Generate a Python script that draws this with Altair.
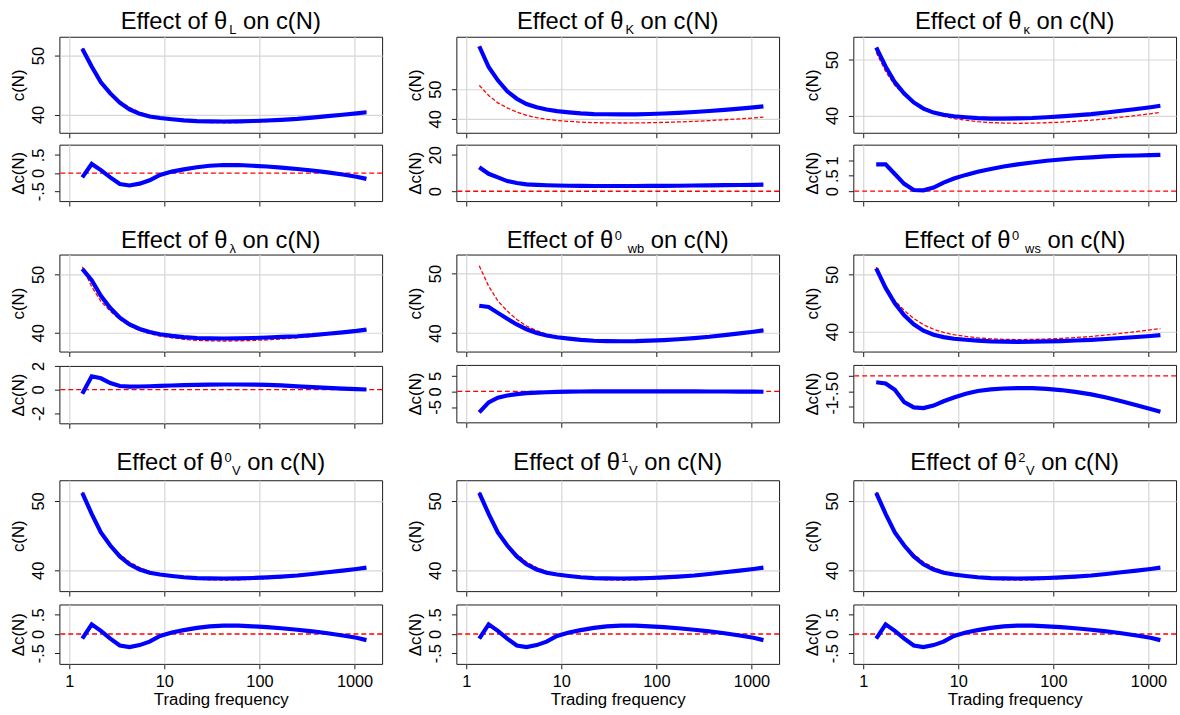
import altair as alt
import pandas as pd

FONT = "Liberation Sans"
RED = "#ff0000"
BLUE = "#0000ff"

# ---- data ----
N = [1.37, 1.72, 2.15, 2.7, 3.4, 4.3, 5.5, 7, 9, 12, 16, 22, 30, 42, 60, 85,
     120, 170, 250, 360, 520, 750, 1050, 1335]
BASE = [51.3, 47.9, 45.4, 43.7, 42.3, 41.2, 40.4, 39.85, 39.45, 39.15, 38.9,
        38.72, 38.64, 38.6, 38.62, 38.7, 38.8, 38.95, 39.15, 39.4, 39.7, 40.0,
        40.3, 40.55]
D_L = [-0.12, 0.25, 0.08, -0.12, -0.30, -0.34, -0.29, -0.20, -0.05, 0.04, 0.10,
       0.16, 0.20, 0.22, 0.22, 0.20, 0.18, 0.15, 0.11, 0.07, 0.02, -0.04, -0.10, -0.16]
D_K = [13.2, 9.6, 7.6, 5.6, 4.5, 3.8, 3.5, 3.3, 3.15, 3.05, 2.95, 2.9, 2.9, 2.9,
       2.9, 2.95, 3.0, 3.05, 3.15, 3.25, 3.35, 3.45, 3.55, 3.65]
D_KAPPA = [0.87, 0.87, 0.56, 0.24, 0.04, 0.03, 0.12, 0.28, 0.41, 0.53, 0.63, 0.72,
           0.80, 0.87, 0.93, 0.99, 1.03, 1.07, 1.10, 1.13, 1.15, 1.16, 1.17, 1.18]
D_LAMBDA = [-0.36, 1.12, 0.95, 0.55, 0.30, 0.25, 0.26, 0.28, 0.31, 0.34, 0.37, 0.40,
            0.42, 0.43, 0.43, 0.42, 0.40, 0.35, 0.27, 0.20, 0.14, 0.08, 0.03, 0.0]
D_WB = [-6.7, -3.5, -2.0, -1.3, -0.85, -0.55, -0.38, -0.25, -0.15, -0.08, -0.03, 0.0,
        0.02, 0.03, 0.03, 0.03, 0.02, 0.01, 0.0, -0.02, -0.03, -0.05, -0.07, -0.09]
D_WS = [-0.21, -0.25, -0.45, -0.85, -1.02, -1.04, -0.96, -0.82, -0.70, -0.58, -0.49,
        -0.44, -0.41, -0.40, -0.40, -0.42, -0.46, -0.52, -0.60, -0.70, -0.82, -0.95,
        -1.07, -1.16]
D_V0 = [-0.12, 0.25, 0.08, -0.12, -0.30, -0.34, -0.29, -0.20, -0.05, 0.04, 0.10,
        0.16, 0.20, 0.22, 0.22, 0.20, 0.18, 0.15, 0.11, 0.07, 0.02, -0.04, -0.10, -0.16]
D_V1 = [-0.12, 0.25, 0.08, -0.12, -0.30, -0.34, -0.29, -0.20, -0.05, 0.04, 0.10,
        0.16, 0.20, 0.22, 0.22, 0.20, 0.18, 0.15, 0.11, 0.07, 0.02, -0.04, -0.10, -0.16]
D_V2 = [-0.12, 0.25, 0.08, -0.12, -0.30, -0.34, -0.29, -0.20, -0.05, 0.04, 0.10,
        0.16, 0.20, 0.22, 0.22, 0.20, 0.18, 0.15, 0.11, 0.07, 0.02, -0.04, -0.10, -0.16]
X_TICKS = [1, 10, 100, 1000]
MAIN_TICKS = [40, 50]

# ---- layout / style ----
W = 326
XDOM = [0.787, 1950]
F, S = 24, 13
CHAR_W = {'E': 667, 'f': 278, 'e': 556, 'c': 500, 't': 278, ' ': 278, 'o': 556,
          'θ': 556, 'n': 556, '(': 333, 'N': 722, ')': 333, 'L': 556, 'K': 667,
          'κ': 500, 'λ': 500, 'w': 722, 'b': 556, 's': 500, 'V': 667,
          '0': 556, '1': 556, '2': 556}
SP = 0.278 * F
SUB, SUP = 5, -8


def tw(s, size):
    return sum(CHAR_W.get(ch, 556) for ch in s) * size / 1000.0


def segs_sub(sub):
    return [("Effect of θ", F, 0, 0), (sub, S, SUB, 1.5), ("on c(N)", F, 0, SP)]


def segs_supsub(sup, sub, gap):
    return [("Effect of θ", F, 0, 0), (sup, S, SUP, 1), (sub, S, SUB, gap),
            ("on c(N)", F, 0, SP)]


PANELS = [
    dict(segs=segs_sub("L"), d=D_L, mdom=[36.9, 53.2], ddom=[-0.77, 0.78], dt=[-0.5, 0, 0.5]),
    dict(segs=segs_sub("K"), d=D_K, mdom=[35.3, 67.7], ddom=[-5.4, 25.6], dt=[0, 20]),
    dict(segs=segs_sub("κ"), d=D_KAPPA, mdom=[36.9, 54.1], ddom=[-0.32, 1.51], dt=[0, 0.5, 1]),
    dict(segs=segs_sub("λ"), d=D_LAMBDA, mdom=[36.8, 53.4], ddom=[-2.86, 2.0], dt=[-2, 0, 2]),
    dict(segs=segs_supsub("0", "wb", 6), d=D_WB, mdom=[36.9, 53.2], ddom=[-9.9, 8.5], dt=[-5, 0, 5]),
    dict(segs=segs_supsub("0", "ws", 6), d=D_WS, mdom=[36.5, 53.5], ddom=[-1.5, 0.35], dt=[-1, -0.5, 0]),
    dict(segs=segs_supsub("0", "V", 0.5), d=D_V0, mdom=[37.0, 53.0], ddom=[-0.78, 0.77], dt=[-0.5, 0, 0.5]),
    dict(segs=segs_supsub("1", "V", 0.5), d=D_V1, mdom=[37.0, 53.0], ddom=[-0.78, 0.77], dt=[-0.5, 0, 0.5]),
    dict(segs=segs_supsub("2", "V", 0.5), d=D_V2, mdom=[37.0, 53.0], ddom=[-0.78, 0.77], dt=[-0.5, 0, 0.5]),
]
ROWS = [dict(h1=97, h2=57, s1=5, ty=-7.7), dict(h1=98, h2=58, s1=6.5, ty=-7),
        dict(h1=112, h2=60, s1=6.5, ty=-10.5)]

LABEL_EXPR = ("datum.value == 0 ? '0' : (datum.value < 0 ? '-' : '') + "
              "(abs(datum.value) < 1 ? substring(format(abs(datum.value), '.1f'), 1) "
              ": format(abs(datum.value), 'd'))")
YAX = dict(labelAngle=270, labelAlign="center", labelBaseline="bottom", labelPadding=8,
           tickSize=5, titlePadding=3, labelOverlap=False, labelFlush=False, domain=False,
           labelExpr=LABEL_EXPR)


def title_layers(segs, base_y):
    total = sum(g + tw(t, s) for t, s, dy, g in segs)
    x = W / 2 - total / 2
    out = []
    for t, s, dy, g in segs:
        x += g
        out.append(
            alt.Chart(pd.DataFrame({"t": [t]}))
            .mark_text(align="left", baseline="alphabetic", fontSize=s, font=FONT, color="black")
            .encode(x=alt.value(x), y=alt.value(base_y + dy), text="t:N")
        )
        x += tw(t, s)
    return out


def make_cell(p, row, bottom, s1):
    df = pd.DataFrame({"N": N, "base": BASE, "delta": p["d"]})
    df["blue"] = df["base"] + df["delta"]
    xs = alt.Scale(type="log", domain=XDOM, nice=False)
    xa_top = alt.Axis(values=X_TICKS, labels=False, title=None, ticks=True, grid=True,
                      domain=False, tickSize=5)
    if bottom:
        xa_bot = alt.Axis(values=X_TICKS, format="d", title="Trading frequency", grid=True,
                          domain=False, tickSize=5, labelPadding=5, titlePadding=2,
                          labelFlush=False, labelOverlap=False)
    else:
        xa_bot = xa_top
    ys = alt.Scale(domain=p["mdom"], nice=False, zero=False)
    ya = alt.Axis(title="c(N)", values=MAIN_TICKS, grid=True, **YAX)
    red = alt.Chart(df).mark_line(color=RED, strokeWidth=1.3, strokeDash=[4, 2]).encode(
        x=alt.X("N:Q", scale=xs, axis=xa_top), y=alt.Y("base:Q", scale=ys, axis=ya))
    blue = alt.Chart(df).mark_line(color=BLUE, strokeWidth=4.2).encode(
        x=alt.X("N:Q", scale=xs, axis=xa_top), y=alt.Y("blue:Q", scale=ys, axis=ya))
    main = alt.layer(red, blue, *title_layers(p["segs"], row["ty"])).properties(
        width=W, height=row["h1"])

    dys = alt.Scale(domain=p["ddom"], nice=False, zero=False)
    dya = alt.Axis(title="Δc(N)", values=p["dt"], grid=False, **YAX)
    zero = alt.Chart(pd.DataFrame({"z": [0.0]})).mark_rule(
        color=RED, strokeWidth=1.3, strokeDash=[5, 3]).encode(
        y=alt.Y("z:Q", scale=dys, axis=dya))
    dl = alt.Chart(df).mark_line(color=BLUE, strokeWidth=4.2).encode(
        x=alt.X("N:Q", scale=xs, axis=xa_bot), y=alt.Y("delta:Q", scale=dys, axis=dya))
    delta = alt.layer(zero, dl).properties(width=W, height=row["h2"])
    return alt.vconcat(main, delta, spacing=s1)


rows = []
for r in range(3):
    cells = []
    for c in range(3):
        p = PANELS[r * 3 + c]
        s1 = ROWS[r]["s1"]
        if r == 1 and c == 0:
            s1 -= 4
        cells.append(make_cell(p, ROWS[r], r == 2, s1))
    rows.append(alt.hconcat(*cells, spacing=22))

chart = (
    alt.vconcat(*rows, spacing=21)
    .properties(padding={"left": 9, "top": 5.5, "right": 2, "bottom": 2}, background="white")
    .configure(font=FONT)
    .configure_view(stroke="#1a1a1a", strokeWidth=1)
    .configure_axis(labelFont=FONT, titleFont=FONT, labelFontSize=16.5, titleFontSize=17,
                    labelColor="black", titleColor="black", titleFontWeight="normal",
                    tickColor="#1a1a1a", gridColor="#d6d6d6", gridWidth=1.2)
)

chart.save("out.html", embed_options={"renderer": "svg", "actions": False})
